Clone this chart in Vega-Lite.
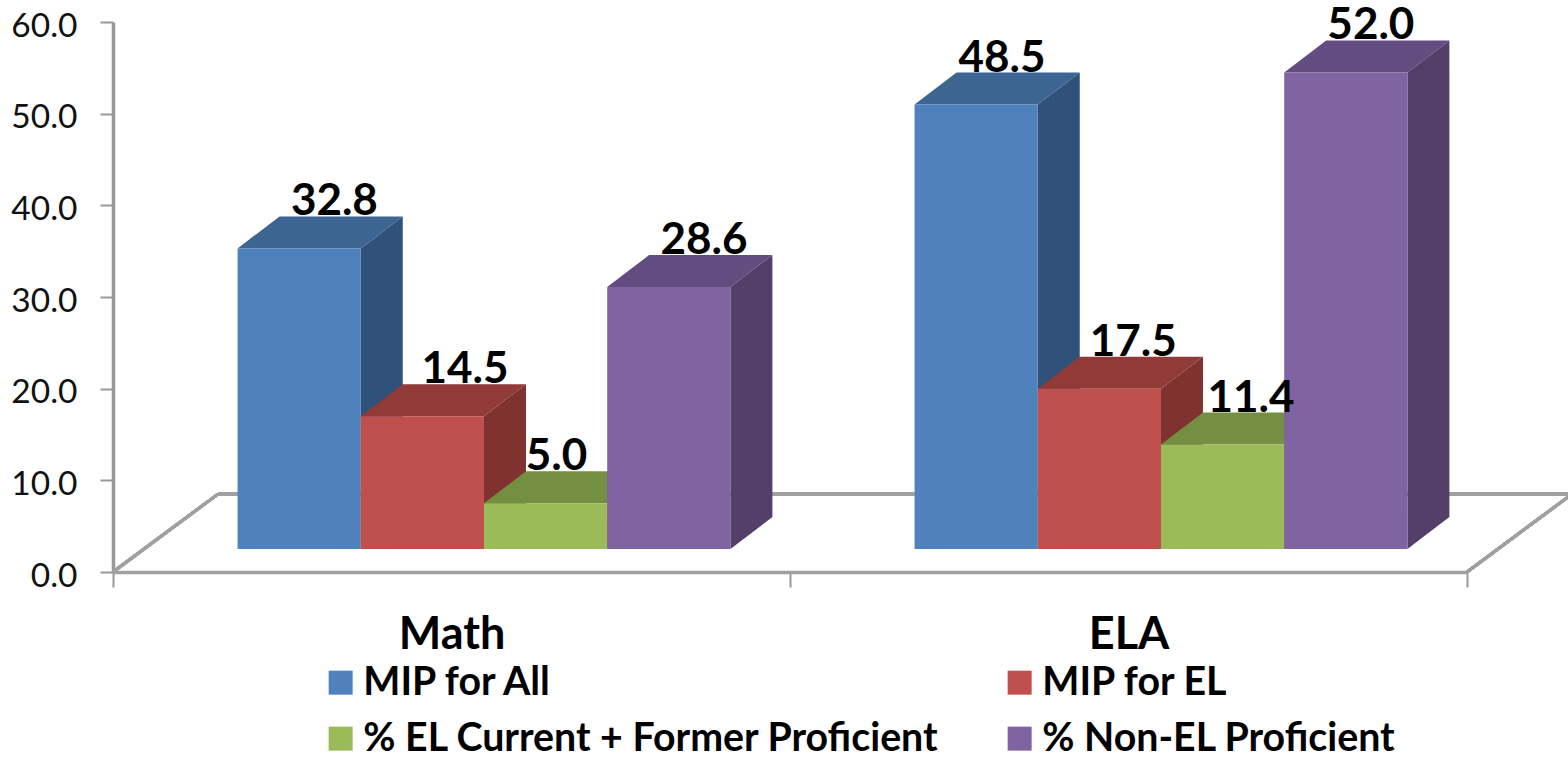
{
  "$schema": "https://vega.github.io/schema/vega-lite/v6.json",
  "width": 1354,
  "height": 550,
  "padding": {"left": 113, "top": 22, "right": 101, "bottom": 186},
  "autosize": {"type": "none"},
  "background": "white",
  "config": {"view": {"stroke": null}, "font": "Lato"},
  "datasets": {
    "scores": [
      {"subject": "Math", "measure": "MIP for All", "value": 32.8},
      {"subject": "Math", "measure": "MIP for EL", "value": 14.5},
      {"subject": "Math", "measure": "% EL Current + Former Proficient", "value": 5.0},
      {"subject": "Math", "measure": "% Non-EL Proficient", "value": 28.6},
      {"subject": "ELA", "measure": "MIP for All", "value": 48.5},
      {"subject": "ELA", "measure": "MIP for EL", "value": 17.5},
      {"subject": "ELA", "measure": "% EL Current + Former Proficient", "value": 11.4},
      {"subject": "ELA", "measure": "% Non-EL Proficient", "value": 52.0}
    ]
  },
  "data": {"name": "scores"},
  "transform": [
    {"calculate": "datum.subject === 'Math' ? 0 : 1", "as": "slot"},
    {"calculate": "indexof(['MIP for All','MIP for EL','% EL Current + Former Proficient','% Non-EL Proficient'], datum.measure)", "as": "rank"},
    {"calculate": "datum.slot + 0.184 + datum.rank * 0.182", "as": "left"},
    {"calculate": "datum.left + 0.182", "as": "right"},
    {"calculate": "datum.value + 2.5", "as": "top"},
    {"calculate": "datum.subject + '|' + datum.rank", "as": "key"}
  ],
  "layer": [
    {
      "mark": {"type": "rule", "color": "#A0A0A0", "strokeWidth": 3},
      "encoding": {
        "x": {"datum": 0, "type": "quantitative", "scale": {"domain": [0, 2], "nice": false},
          "title": null,
          "axis": {
            "title": null,
            "values": [0, 0.5, 1, 1.5, 2],
            "labelExpr": "datum.value === 0.5 ? 'Math' : datum.value === 1.5 ? 'ELA' : ''",
            "labelFont": "Lato", "labelFontWeight": "bold", "labelFontSize": 45, "labelColor": "black",
            "labelPadding": 25, "labelOverlap": false, "labelBound": false, "labelFlush": false,
            "grid": false, "tickSize": 15, "tickWidth": 2, "tickColor": "#999999",
            "tickOpacity": {"condition": {"test": "datum.value === 0.5 || datum.value === 1.5", "value": 0}, "value": 1},
            "domainColor": "#A0A0A0", "domainWidth": 3.5
          }
        },
        "y": {"datum": 0, "type": "quantitative", "scale": {"domain": [0, 60], "nice": false},
          "title": null,
          "axis": {
            "title": null,
            "values": [0, 10, 20, 30, 40, 50, 60], "format": ".1f",
            "labelFont": "Lato", "labelFontSize": 33.5, "labelColor": "#111111", "labelPadding": 23, "labelOffset": 4,
            "grid": false, "tickSize": 13, "tickWidth": 2, "tickColor": "#999999",
            "domainColor": "#999999", "domainWidth": 3.5, "labelBound": false, "labelFlush": false
          }
        },
        "x2": {"datum": 0.155},
        "y2": {"datum": 8.5}
      }
    },
    {
      "mark": {"type": "rule", "color": "#A0A0A0", "strokeWidth": 3},
      "encoding": {
        "x": {"datum": 0.155, "type": "quantitative", "title": null},
        "y": {"datum": 8.5, "type": "quantitative", "title": null},
        "x2": {"datum": 2.155}
      }
    },
    {
      "mark": {"type": "rule", "color": "#A0A0A0", "strokeWidth": 3},
      "encoding": {
        "x": {"datum": 2, "type": "quantitative", "title": null},
        "y": {"datum": 0, "type": "quantitative", "title": null},
        "x2": {"datum": 2.155},
        "y2": {"datum": 8.5}
      }
    },
    {
      "transform": [
        {"calculate": "[0, 1]", "as": "t"},
        {"flatten": ["t"]},
        {"calculate": "datum.right + datum.t * 0.062", "as": "sx"},
        {"calculate": "datum.top + datum.t * 3.49", "as": "sy"},
        {"calculate": "2.5 + datum.t * 3.49", "as": "sy2"}
      ],
      "mark": {"type": "area", "interpolate": "linear"},
      "encoding": {
        "x": {"field": "sx", "type": "quantitative", "title": null},
        "y": {"field": "sy", "type": "quantitative", "stack": null, "title": null},
        "y2": {"field": "sy2"},
        "detail": {"field": "key"},
        "color": {"field": "measure", "type": "nominal", "legend": null,
          "scale": {
            "domain": ["MIP for All", "MIP for EL", "% EL Current + Former Proficient", "% Non-EL Proficient"],
            "range": ["#30527A", "#7F322F", "#64793A", "#533F6A"]
          }
        }
      }
    },
    {
      "transform": [
        {"calculate": "[0, 1]", "as": "t"},
        {"flatten": ["t"]},
        {"calculate": "datum.top + datum.t * 3.49", "as": "ty"},
        {"calculate": "datum.left + datum.t * 0.062", "as": "tx"},
        {"calculate": "datum.right + datum.t * 0.062", "as": "tx2"}
      ],
      "mark": {"type": "area", "orient": "horizontal", "interpolate": "linear"},
      "encoding": {
        "y": {"field": "ty", "type": "quantitative", "title": null},
        "x": {"field": "tx", "type": "quantitative", "stack": null, "title": null},
        "x2": {"field": "tx2"},
        "detail": {"field": "key"},
        "color": {"field": "measure", "type": "nominal", "legend": null,
          "scale": {
            "domain": ["MIP for All", "MIP for EL", "% EL Current + Former Proficient", "% Non-EL Proficient"],
            "range": ["#3D6592", "#913A38", "#748F41", "#624C80"]
          }
        }
      }
    },
    {
      "mark": {"type": "rect"},
      "encoding": {
        "x": {"field": "left", "type": "quantitative", "title": null},
        "x2": {"field": "right"},
        "y": {"field": "top", "type": "quantitative", "title": null},
        "y2": {"datum": 2.5},
        "color": {"field": "measure", "type": "nominal", "title": null,
          "scale": {
            "domain": ["MIP for All", "MIP for EL", "% EL Current + Former Proficient", "% Non-EL Proficient"],
            "range": ["#4F81BD", "#C0504D", "#9BBB59", "#8064A2"]
          },
          "legend": {
            "orient": "none", "legendX": 208, "legendY": 641, "columns": 2, "direction": "horizontal",
            "symbolType": "square", "symbolSize": 576, "symbolStrokeWidth": 0, "symbolOpacity": 1,
            "labelFont": "Lato", "labelFontWeight": "bold", "labelFontSize": 39.3, "labelColor": "black",
            "labelLimit": 800, "labelOffset": 3, "rowPadding": 16, "columnPadding": 60, "padding": 0
          }
        }
      }
    },
    {
      "transform": [
        {"calculate": "({'Math|0':0.052,'Math|1':0.063,'Math|2':0.016,'Math|3':0.052,'ELA|0':0.038,'ELA|1':0.05,'ELA|2':0.042,'ELA|3':0.037})[datum.key]", "as": "nudge"},
        {"calculate": "(datum.left + datum.right) / 2 + datum.nudge", "as": "lx"},
        {"calculate": "datum.top + 3.49", "as": "ly"}
      ],
      "mark": {"type": "text", "font": "Lato", "fontWeight": "bold", "fontSize": 44, "color": "black", "baseline": "alphabetic", "dy": -1},
      "encoding": {
        "x": {"field": "lx", "type": "quantitative", "title": null},
        "y": {"field": "ly", "type": "quantitative", "title": null},
        "text": {"field": "value", "type": "quantitative", "format": ".1f"}
      }
    }
  ],
  "resolve": {"scale": {"color": "independent"}}
}
